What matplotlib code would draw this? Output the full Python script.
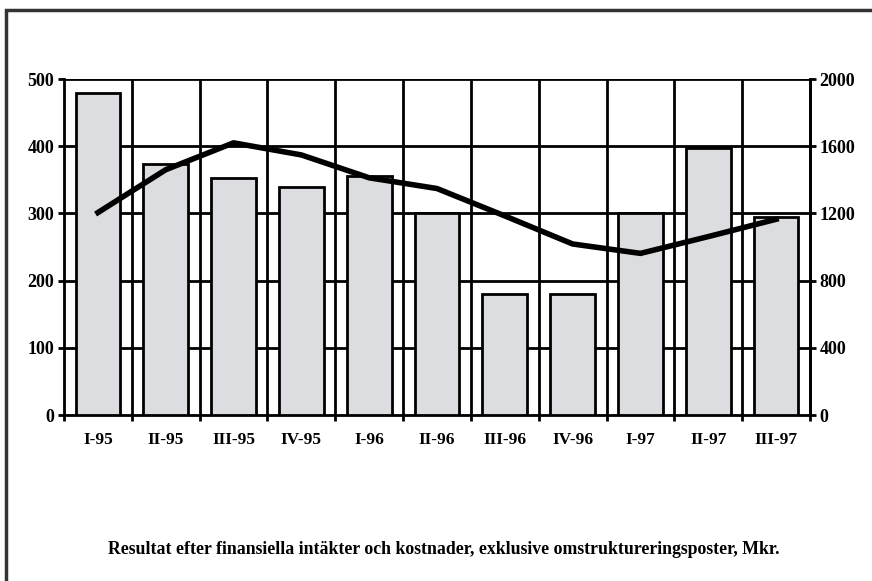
import matplotlib.pyplot as plt
import numpy as np
from matplotlib.patches import Rectangle

quarters = ['I-95', 'II-95', 'III-95', 'IV-95', 'I-96', 'II-96',
            'III-96', 'IV-96', 'I-97', 'II-97', 'III-97']
bar_values = [479, 373, 352, 340, 356, 300, 180, 180, 300, 398, 294]
line_values = [1205, 1460, 1620, 1548, 1412, 1348, 1185, 1018, 962, 1062, 1165]
caption = 'Resultat efter finansiella intäkter och kostnader, exklusive omstruktureringsposter, Mkr.'

plt.rcParams['font.family'] = ['Liberation Serif', 'DejaVu Serif']
plt.rcParams['font.weight'] = 'bold'

fig = plt.figure(figsize=(8.72, 5.81), dpi=100)
ax = fig.add_axes([64 / 872, 1 - 415 / 581, 746 / 872, 336 / 581])

ind = np.arange(len(quarters))
ax.bar(ind, bar_values, 0.66, color='#dcdde0', edgecolor='black',
       linewidth=2, zorder=3)
ax.set_xlim(-0.5, len(quarters) - 0.5)
ax.set_ylim(0, 500)
ax.set_yticks(range(0, 501, 100))

# grid: horizontal at y ticks, vertical between categories
for y in range(100, 501, 100):
    ax.axhline(y, color='black', linewidth=2, zorder=1)
for b in np.arange(0.5, len(quarters) - 0.5, 1):
    ax.axvline(b, color='black', linewidth=2, zorder=1)

ax.set_xticks(np.arange(-0.5, len(quarters), 1))
ax.set_xticklabels([])
ax.set_xticks(ind, minor=True)
ax.set_xticklabels(quarters, minor=True, fontsize=12.5, fontweight='bold')
ax.tick_params(axis='x', which='minor', length=0, pad=12)
ax.tick_params(axis='x', which='major', length=4.5, width=2, direction='out')
ax.tick_params(axis='y', length=4.5, width=2, direction='out', labelsize=13,
               pad=2.5)
for lab in ax.get_yticklabels():
    lab.set_fontweight('bold')

ax.spines['top'].set_visible(False)
for s in ['left', 'bottom', 'right']:
    ax.spines[s].set_linewidth(2)

ax2 = ax.twinx()
ax2.plot(ind, line_values, color='black', linewidth=4, zorder=5)
ax2.set_ylim(0, 2000)
ax2.set_yticks(range(0, 2001, 400))
ax2.tick_params(axis='y', length=4.5, width=2, direction='out', labelsize=13,
                pad=2.5)
for lab in ax2.get_yticklabels():
    lab.set_fontweight('bold')
ax2.spines['top'].set_visible(False)
ax2.spines['right'].set_linewidth(2)

fig.text(443.5 / 872, 1 - 550 / 581, caption, ha='center', va='center',
         fontsize=12.8, fontweight='bold')

fig.patches.append(Rectangle((6 / 872, -0.1), 1.2, 1 - 10 / 581 + 0.1,
                             transform=fig.transFigure, fill=False,
                             edgecolor='#333333', linewidth=2.5))

fig.savefig('out.png', dpi=100)
